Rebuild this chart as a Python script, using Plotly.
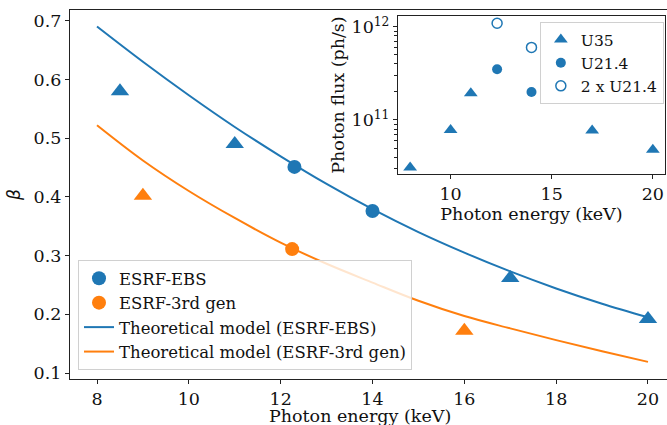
import plotly.graph_objects as go

BLUE = "#1f77b4"
ORANGE = "#ff7f0e"
FONT = "DejaVu Serif"

# ---- main plot data ----
ebs_circ_x = [12.3, 14.0]
ebs_circ_y = [0.451, 0.376]
ebs_tri_x = [8.5, 11.0, 17.0, 20.0]
ebs_tri_y = [0.580, 0.490, 0.262, 0.192]

gen3_circ_x = [12.25]
gen3_circ_y = [0.311]
gen3_tri_x = [9.0, 16.0]
gen3_tri_y = [0.402, 0.172]

model_x = [8, 9, 10, 11, 12, 13, 14, 15, 16, 17, 18, 19, 20]
model_ebs_y = [0.690, 0.630, 0.573, 0.519, 0.469, 0.422, 0.379, 0.340, 0.305, 0.273, 0.244, 0.218, 0.195]
model_gen3_y = [0.522, 0.462, 0.410, 0.364, 0.322, 0.286, 0.254, 0.223, 0.197, 0.176, 0.156, 0.137, 0.119]

# ---- inset data ----
u35_x = [8, 10, 11, 17, 20]
u35_y = [3.1e10, 7.8e10, 1.93e11, 7.7e10, 4.8e10]
u214_x = [12.3, 14.0]
u214_y = [3.5e11, 2.0e11]
u214x2_x = [12.3, 14.0]
u214x2_y = [1.09e12, 6.0e11]

x_ticks = [8, 10, 12, 14, 16, 18, 20]
y_ticks = [0.1, 0.2, 0.3, 0.4, 0.5, 0.6, 0.7]
inset_x_ticks = [10, 15, 20]
inset_y_ticks = [1e11, 1e12]
inset_y_ticktext = ["10<sup>11</sup>", "10<sup>12</sup>"]
inset_y_minor = [3e10, 4e10, 5e10, 6e10, 7e10, 8e10, 9e10,
                 2e11, 3e11, 4e11, 5e11, 6e11, 7e11, 8e11, 9e11]

FS = 17.5

fig = go.Figure()

fig.add_trace(go.Scatter(x=model_x, y=model_ebs_y, mode="lines", line=dict(color=BLUE, width=2, shape="spline"),
                         name="Theoretical model (ESRF-EBS)", legendrank=3))
fig.add_trace(go.Scatter(x=model_x, y=model_gen3_y, mode="lines", line=dict(color=ORANGE, width=2, shape="spline"),
                         name="Theoretical model (ESRF-3rd gen)", legendrank=4))
fig.add_trace(go.Scatter(x=ebs_circ_x, y=ebs_circ_y, mode="markers",
                         marker=dict(color=BLUE, size=14, symbol="circle"), name="ESRF-EBS", legendrank=1))
fig.add_trace(go.Scatter(x=gen3_circ_x, y=gen3_circ_y, mode="markers",
                         marker=dict(color=ORANGE, size=14, symbol="circle"), name="ESRF-3rd gen", legendrank=2))
fig.add_trace(go.Scatter(x=ebs_tri_x, y=ebs_tri_y, mode="markers",
                         marker=dict(color=BLUE, size=16, symbol="triangle-up"), showlegend=False))
fig.add_trace(go.Scatter(x=gen3_tri_x, y=gen3_tri_y, mode="markers",
                         marker=dict(color=ORANGE, size=16, symbol="triangle-up"), showlegend=False))

fig.add_trace(go.Scatter(x=u35_x, y=u35_y, mode="markers", xaxis="x2", yaxis="y2", legend="legend2",
                         marker=dict(color=BLUE, size=12, symbol="triangle-up"), name="U35"))
fig.add_trace(go.Scatter(x=u214_x, y=u214_y, mode="markers", xaxis="x2", yaxis="y2", legend="legend2",
                         marker=dict(color=BLUE, size=10, symbol="circle"), name="U21.4"))
fig.add_trace(go.Scatter(x=u214x2_x, y=u214x2_y, mode="markers", xaxis="x2", yaxis="y2", legend="legend2",
                         marker=dict(color="white", size=10, symbol="circle", line=dict(color=BLUE, width=1.5)),
                         name="2 x U21.4"))

axis_common = dict(showline=True, linecolor="#222", linewidth=1.2, ticks="outside", ticklen=4,
                   tickwidth=1.2, tickcolor="#222", showgrid=False, zeroline=False,
                   tickfont=dict(family=FONT, size=FS, color="#111"))

fig.update_layout(
    width=667, height=425,
    margin=dict(l=70, r=0, t=10, b=46),
    paper_bgcolor="white", plot_bgcolor="white",
    font=dict(family=FONT, size=FS, color="#111"),
    xaxis=dict(**axis_common, range=[7.412, 20.414], tickvals=x_ticks, mirror=True, domain=[0, 1],
               automargin=False),
    yaxis=dict(**axis_common, range=[0.0898, 0.7182], tickvals=y_ticks, tickformat=".1f", domain=[0, 1],
               title=dict(text="<i>β</i>", font=dict(family="DejaVu Sans", size=17), standoff=8),
               automargin=False),
    xaxis2=dict(**axis_common, anchor="y2", domain=[0.5494, 0.9966], range=[7.4, 20.6],
                tickvals=inset_x_ticks, mirror=True,
                title=dict(text="Photon energy (keV)", font=dict(family=FONT, size=FS), standoff=0),
                automargin=False),
    yaxis2=dict(**axis_common, anchor="x2", domain=[0.5556, 0.9837], type="log", range=[10.421, 12.115],
                tickvals=inset_y_ticks, ticktext=inset_y_ticktext, mirror=True,
                minor=dict(ticks="outside", ticklen=2.5, tickwidth=1, tickcolor="#222", tickvals=inset_y_minor),
                title=dict(text="Photon flux (ph/s)", font=dict(family=FONT, size=FS), standoff=2),
                automargin=False),
    legend=dict(x=0.0134, y=0.0244, xanchor="left", yanchor="bottom",
                bgcolor="rgba(255,255,255,0.8)", bordercolor="#d0d0d0", borderwidth=1,
                font=dict(family=FONT, size=16.5, color="#111"), traceorder="normal"),
    legend2=dict(x=0.787, y=0.9675, xanchor="left", yanchor="top",
                 bgcolor="rgba(255,255,255,0.8)", bordercolor="#d0d0d0", borderwidth=1,
                 font=dict(family=FONT, size=15.5, color="#111"), itemwidth=30),
    showlegend=True,
    annotations=[dict(text="Photon energy (keV)", xref="paper", yref="paper",
                      x=(360 - 70) / 597, y=(379 - 416) / 369, xanchor="center", yanchor="middle",
                      showarrow=False, font=dict(family=FONT, size=FS, color="#111"))],
)

fig.write_html("out.html")
